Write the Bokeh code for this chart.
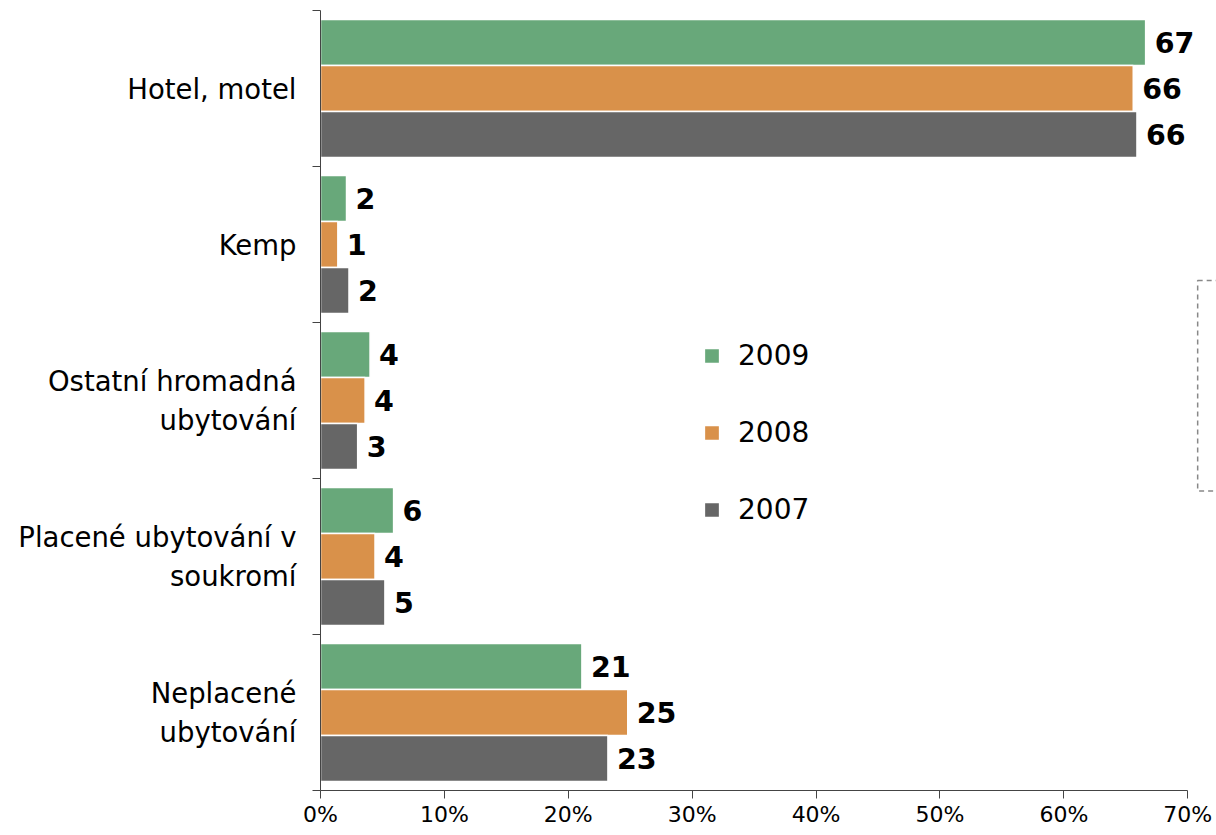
from bokeh.plotting import figure
from bokeh.models import (ColumnDataSource, Range1d, FixedTicker, PrintfTickFormatter,
                          LabelSet, Legend, LegendItem, BoxAnnotation)
from bokeh.core.properties import value
from bokeh.embed import file_html
from bokeh.resources import INLINE

categories = ["Hotel, motel", "Kemp", "Ostatní hromadná\nubytování",
              "Placené ubytování v\nsoukromí", "Neplacené\nubytování"]
years = ["2009", "2008", "2007"]
v2009 = [66.6, 2.1, 4.0, 5.9, 21.1]
v2008 = [65.6, 1.4, 3.6, 4.4, 24.8]
v2007 = [65.9, 2.3, 3.0, 5.2, 23.2]
colors = ["#68a87a", "#d9914a", "#666666"]
x_ticks = [0, 10, 20, 30, 40, 50, 60, 70]

n = len(categories)
centers = [n - 0.5 - i for i in range(n)]
bounds = [float(k) for k in range(n + 1)]

FONT = "DejaVu Sans"

p = figure(width=1216, height=835, output_backend="svg", toolbar_location=None,
           x_range=Range1d(0, 72.32), y_range=Range1d(0, n),
           min_border_left=320, min_border_right=0, min_border_top=10, min_border_bottom=45)
p.outline_line_color = None
p.grid.grid_line_color = None
p.background_fill_color = "white"

offsets = [0.295, 0.0, -0.295]
renderers = []
for vals, off, col, yr in zip([v2009, v2008, v2007], offsets, colors, years):
    src = ColumnDataSource(dict(y=[c + off for c in centers], right=vals,
                                lab=[str(int(round(v))) for v in vals]))
    r = p.hbar(y="y", left=0, right="right", height=0.295, source=src,
               fill_color=col, line_color="white", line_width=1.5)
    renderers.append((yr, r))
    ls = LabelSet(x="right", y="y", text="lab", source=src, x_offset=9, y_offset=0,
                  text_font=value(FONT), text_font_size=value("28.5px"),
                  text_font_style=value("bold"),
                  text_baseline=value("middle"), text_align=value("left"),
                  text_color=value("black"))
    p.add_layout(ls)

# x axis
xa = p.xaxis[0]
xa.bounds = (0, 70)
xa.ticker = FixedTicker(ticks=x_ticks)
xa.formatter = PrintfTickFormatter(format="%d%%")
xa.major_label_text_font = FONT
xa.major_label_text_font_size = "22px"
xa.major_label_text_color = "black"
xa.axis_line_color = "#444444"
xa.major_tick_line_color = "#444444"
xa.major_tick_in = 0
xa.major_tick_out = 8
xa.minor_tick_line_color = None
xa.major_label_standoff = 3

# y axis: labels at centers, minor ticks at boundaries
ya = p.yaxis[0]
ya.ticker = FixedTicker(ticks=centers, minor_ticks=bounds)
ya.major_label_overrides = {c: lab for c, lab in zip(centers, categories)}
ya.major_label_text_font = FONT
ya.major_label_text_font_size = "27.5px"
ya.major_label_text_color = "black"
ya.major_label_text_align = "center"
ya.major_tick_line_color = None
ya.minor_tick_line_color = "#444444"
ya.minor_tick_in = 0
ya.minor_tick_out = 8
ya.axis_line_color = "#444444"
ya.major_label_standoff = 16

legend = Legend(items=[LegendItem(label=yr, renderers=[r]) for yr, r in renderers],
                location=(382, 264), border_line_color=None, background_fill_alpha=0,
                label_text_font=FONT, label_text_font_size="28px", label_text_color="black",
                glyph_width=19, glyph_height=19, label_standoff=17, spacing=44,
                padding=6, margin=0)
p.add_layout(legend)

box = BoxAnnotation(left=70.8, right=76, top=3.27, bottom=1.92,
                    fill_alpha=0, line_color="#888888", line_alpha=1.0,
                    line_dash="5 4", line_width=1.5)
p.add_layout(box)

open("out.html", "w").write(file_html(p, INLINE))
